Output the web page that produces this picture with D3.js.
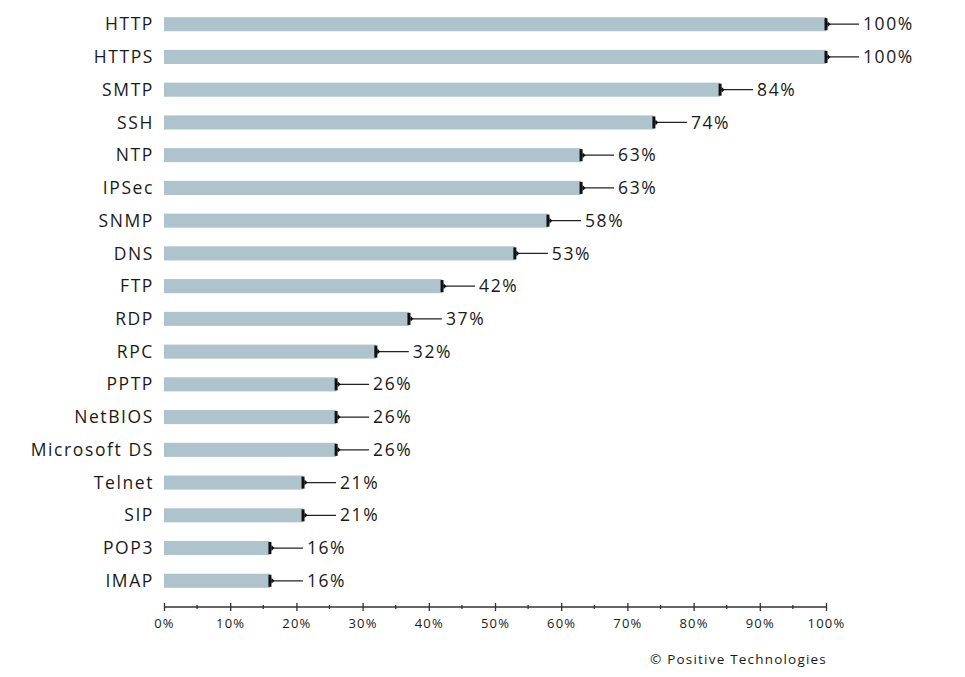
<!DOCTYPE html>
<html lang="en">
<head>
  <meta charset="UTF-8" />
  <title>Protocols</title>
  <style>
  body {
    margin: 0;
    background: #fff;
    font-family: "Open Sans", sans-serif;
  }
  </style>
  <script src="https://d3js.org/d3.v7.min.js"></script>
</head>
<body>
  <div id="chart"></div>
  <script>
    // Data
    const protocols = ["HTTP", "HTTPS", "SMTP", "SSH", "NTP", "IPSec", "SNMP", "DNS", "FTP",
      "RDP", "RPC", "PPTP", "NetBIOS", "Microsoft DS", "Telnet", "SIP", "POP3", "IMAP"];
    const shares = [100, 100, 84, 74, 63, 63, 58, 53, 42, 37, 32, 26, 26, 26, 21, 21, 16, 16];
    const tickValues = [0, 10, 20, 30, 40, 50, 60, 70, 80, 90, 100];
    const minorTicks = [5, 15, 25, 35, 45, 55, 65, 75, 85, 95];

    const width = 965, height = 677;
    const margin = { top: 8, right: 139, bottom: 70, left: 164 };
    const barColor = "#afc3cd";
    const textColor = "#1a1a1a";

    const svg = d3.select("#chart").append("svg")
      .attr("width", width)
      .attr("height", height);

    const x = d3.scaleLinear()
      .domain([0, 100])
      .range([margin.left, width - margin.right]);

    const y = d3.scaleBand()
      .domain(protocols)
      .range([margin.top, 597])
      .paddingInner(0.57)
      .paddingOuter(0.28);

    const rows = protocols.map((p, i) => ({ name: p, value: shares[i] }));

    // Bars
    svg.selectAll(".bar")
      .data(rows)
      .enter().append("rect")
      .attr("class", "bar")
      .attr("x", x(0))
      .attr("y", d => y(d.name))
      .attr("width", d => x(d.value) - x(0))
      .attr("height", y.bandwidth())
      .attr("fill", barColor);

    // Whisker line
    svg.selectAll(".whisker")
      .data(rows)
      .enter().append("line")
      .attr("x1", d => x(d.value))
      .attr("x2", d => x(d.value) + 33)
      .attr("y1", d => y(d.name) + y.bandwidth() / 2)
      .attr("y2", d => y(d.name) + y.bandwidth() / 2)
      .attr("stroke", "#222")
      .attr("stroke-width", 1.3);

    // End marker
    svg.selectAll(".marker")
      .data(rows)
      .enter().append("rect")
      .attr("x", d => x(d.value) - 1.5)
      .attr("y", d => y(d.name) + 1)
      .attr("width", 3)
      .attr("height", y.bandwidth() - 2)
      .attr("fill", "#111");

    svg.selectAll(".marker-tip")
      .data(rows)
      .enter().append("path")
      .attr("d", d => {
        const cx = x(d.value) + 1.5, cy = y(d.name) + y.bandwidth() / 2;
        return `M${cx},${cy - 3}L${cx + 3},${cy}L${cx},${cy + 3}Z`;
      })
      .attr("fill", "#111");

    // Value labels
    svg.selectAll(".value")
      .data(rows)
      .enter().append("text")
      .attr("x", d => x(d.value) + 37)
      .attr("y", d => y(d.name) + y.bandwidth() / 2)
      .attr("dy", "0.35em")
      .attr("font-size", 17.5)
      .attr("letter-spacing", 1.6)
      .attr("fill", textColor)
      .text(d => d.value + "%");

    // Category labels
    svg.selectAll(".name")
      .data(rows)
      .enter().append("text")
      .attr("x", margin.left - 10)
      .attr("y", d => y(d.name) + y.bandwidth() / 2)
      .attr("dy", "0.35em")
      .attr("text-anchor", "end")
      .attr("font-size", 17.5)
      .attr("letter-spacing", 1.6)
      .attr("fill", textColor)
      .text(d => d.name);

    // X axis
    const axisY = 607;
    const axis = svg.append("g")
      .attr("transform", `translate(0,${axisY})`)
      .call(d3.axisBottom(x).tickValues(tickValues).tickSize(4).tickPadding(8)
        .tickFormat(d => d + "%"));
    axis.select(".domain").attr("d", `M${x(0)},0H${x(100)}`).attr("stroke", "#333").attr("stroke-width", 1.3);
    axis.selectAll(".tick line").attr("y1", -4).attr("y2", 4).attr("stroke", "#333").attr("stroke-width", 1.3);
    axis.selectAll(".tick text")
      .attr("font-family", "Open Sans, sans-serif")
      .attr("font-size", 13)
      .attr("letter-spacing", 1.2)
      .attr("fill", textColor);

    svg.append("g")
      .selectAll("line")
      .data(minorTicks)
      .enter().append("line")
      .attr("x1", d => x(d))
      .attr("x2", d => x(d))
      .attr("y1", axisY - 2)
      .attr("y2", axisY + 2)
      .attr("stroke", "#333")
      .attr("stroke-width", 1.3);

    // Credit
    svg.append("text")
      .attr("x", x(100) + 1)
      .attr("y", 664)
      .attr("text-anchor", "end")
      .attr("font-size", 13.5)
      .attr("letter-spacing", 1.2)
      .attr("fill", textColor)
      .text("© Positive Technologies");
  </script>
</body>
</html>
